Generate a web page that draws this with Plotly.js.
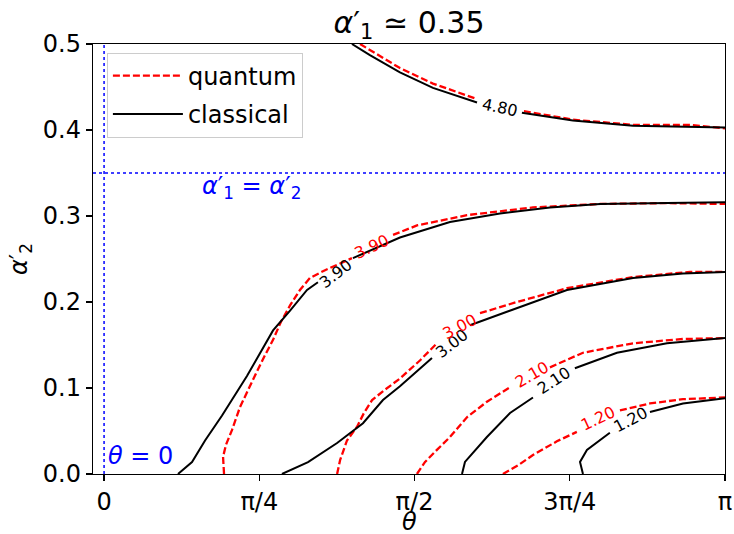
<!DOCTYPE html>
<html>
<head>
<meta charset="utf-8">
<script src="https://cdn.plot.ly/plotly-3.0.1.min.js"></script>
<style>
  html, body { margin: 0; padding: 0; background: #fff; }
  #chart { width: 734px; height: 534px; }
</style>
</head>
<body>
<div id="chart"></div>
<script>
// ---- data ----
const alpha1 = 0.35;
const levels = ["1.20", "2.10", "3.00", "3.90", "4.80"];
const xTickVals = [0, Math.PI / 4, Math.PI / 2, 3 * Math.PI / 4, Math.PI];
const xTickText = ["0", "π/4", "π/2", "3π/4", "π"];
const yTickVals = [0, 0.1, 0.2, 0.3, 0.4, 0.5];
const yTickText = ["0.0", "0.1", "0.2", "0.3", "0.4", "0.5"];

// classical contours (null = gap for inline label)
const cX120 = [2.423, 2.408, 2.443, 2.559, null, 2.762, 2.929, 3.1416];
const cY120 = [0, 0.014, 0.028, 0.048, null, 0.072, 0.082, 0.088];
const cX210 = [1.811, 1.826, 1.937, 2.054, 2.170, null, 2.382, 2.595, 2.848, 3.1416];
const cY210 = [0, 0.014, 0.043, 0.071, 0.089, null, 0.123, 0.141, 0.152, 0.158];
const cX300 = [0.900, 1.032, 1.179, 1.310, 1.411, 1.497, 1.659, null, 1.851, 2.089, 2.342, 2.676, 2.929, 3.1416];
const cY300 = [0, 0.0139, 0.036, 0.059, 0.086, 0.102, 0.135, null, 0.173, 0.193, 0.214, 0.228, 0.233, 0.235];
const cX390 = [0.374, 0.445, 0.511, 0.597, 0.723, 0.855, 0.941, 1.027, 1.082, null, 1.259, 1.497, 1.750, 2.003, 2.256, 2.509, 2.848, 3.1416];
const cY390 = [0, 0.0139, 0.039, 0.068, 0.114, 0.167, 0.190, 0.214, 0.223, null, 0.251, 0.275, 0.293, 0.303, 0.310, 0.314, 0.315, 0.316];
const cX480 = [1.254, 1.345, 1.497, 1.664, 1.887, null, 2.114, 2.372, 2.676, 3.1416];
const cY480 = [0.5, 0.487, 0.467, 0.449, 0.432, null, 0.420, 0.411, 0.405, 0.403];

// quantum contours
const qX120 = [2.018, 2.094, 2.170, 2.291, 2.392, null, 2.610, 2.762, 2.929, 3.1416];
const qY120 = [0, 0.010, 0.022, 0.038, 0.049, null, 0.074, 0.082, 0.087, 0.089];
const qX210 = [1.583, 1.624, 1.684, 1.750, 1.836, 1.937, 2.054, null, 2.256, 2.423, 2.676, 2.929, 3.1416];
const qY210 = [0, 0.014, 0.028, 0.043, 0.066, 0.084, 0.101, null, 0.124, 0.141, 0.152, 0.157, 0.158];
const qX300 = [1.179, 1.194, 1.229, 1.280, 1.315, 1.356, 1.421, 1.497, 1.598, 1.684, null, 1.902, 2.089, 2.342, 2.676, 2.964, 3.1416];
const qY300 = [0, 0.016, 0.039, 0.055, 0.071, 0.086, 0.098, 0.111, 0.132, 0.152, null, 0.187, 0.200, 0.216, 0.229, 0.235, 0.235];
const qX390 = [0.607, 0.602, 0.617, 0.647, 0.688, 0.728, 0.769, 0.814, 0.855, 0.895, 0.941, 0.991, 1.042, 1.118, 1.194, 1.254, null, 1.462, 1.583, 1.836, 2.170, 2.509, 2.848, 3.1416];
const qY390 = [0, 0.020, 0.034, 0.051, 0.078, 0.098, 0.117, 0.138, 0.156, 0.177, 0.196, 0.214, 0.228, 0.237, 0.245, 0.251, null, 0.278, 0.289, 0.301, 0.310, 0.314, 0.315, 0.314];
const qX480 = [1.295, 1.386, 1.497, 1.664, 1.887, null, 2.124, 2.372, 2.676, 2.964, 3.1416];
const qY480 = [0.5, 0.487, 0.472, 0.454, 0.436, null, 0.422, 0.412, 0.406, 0.406, 0.402];

// ---- build traces ----
const FONT = "DejaVu Sans, Liberation Sans, sans-serif";
const quantumSets = [[qX120, qY120], [qX210, qY210], [qX300, qY300], [qX390, qY390], [qX480, qY480]];
const classicalSets = [[cX120, cY120], [cX210, cY210], [cX300, cY300], [cX390, cY390], [cX480, cY480]];

const traces = [];
quantumSets.forEach((s, i) => {
  traces.push({
    x: s[0], y: s[1], type: "scatter", mode: "lines",
    name: "quantum", legendgroup: "quantum", showlegend: i === 0,
    connectgaps: false,
    line: { color: "red", width: 2.3, dash: "7px,3px" }
  });
});
classicalSets.forEach((s, i) => {
  traces.push({
    x: s[0], y: s[1], type: "scatter", mode: "lines",
    name: "classical", legendgroup: "classical", showlegend: i === 0,
    connectgaps: false,
    line: { color: "black", width: 2 }
  });
});

// inline contour labels
const labelSpecs = [
  // [text, x, y, angle, color]
  [levels[4], 2.003, 0.426, 12, "black"],
  [levels[3], 1.173, 0.233, -38, "black"],
  [levels[3], 1.356, 0.264, -25, "red"],
  [levels[2], 1.760, 0.152, -38, "black"],
  [levels[2], 1.801, 0.171, -28, "red"],
  [levels[1], 2.276, 0.109, -33, "black"],
  [levels[1], 2.165, 0.116, -30, "red"],
  [levels[0], 2.666, 0.063, -28, "black"],
  [levels[0], 2.499, 0.065, -25, "red"]
];
const annotations = labelSpecs.map(l => ({
  text: l[0], x: l[1], y: l[2], xref: "x", yref: "y",
  showarrow: false, textangle: l[3], xanchor: "center", yanchor: "middle",
  font: { family: FONT, size: 16, color: l[4] }
}));
annotations.push({
  text: "<i>θ</i> = 0", x: 0.012, y: 0.021, xref: "x", yref: "y",
  showarrow: false, xanchor: "left", yanchor: "middle",
  font: { family: FONT, size: 24, color: "blue" }
});
annotations.push({
  text: "<i>α</i>′<sub>1</sub> = <i>α</i>′<sub>2</sub>", x: 0.744, y: 0.333, xref: "x", yref: "y",
  showarrow: false, xanchor: "center", yanchor: "middle",
  font: { family: FONT, size: 24, color: "blue" }
});
// x-axis title (placed as annotation below the tick labels)
annotations.push({
  text: "<i>θ</i>", x: 0.5, y: -0.112, xref: "paper", yref: "paper",
  showarrow: false, xanchor: "center", yanchor: "middle",
  font: { family: FONT, size: 24, color: "black" }
});

const layout = {
  width: 734, height: 534,
  margin: { l: 93, r: 9, t: 43.5, b: 60 },
  paper_bgcolor: "white", plot_bgcolor: "white",
  font: { family: FONT, size: 24, color: "black" },
  title: {
    text: "<i>α</i>′<sub>1</sub> ≃ 0.35",
    x: 0.5, xref: "paper", xanchor: "center",
    y: 0.958, yref: "container", yanchor: "middle",
    font: { family: FONT, size: 30, color: "black" }
  },
  xaxis: {
    range: [-0.056, Math.PI],
    tickmode: "array", tickvals: xTickVals, ticktext: xTickText,
    ticks: "outside", ticklen: 6, tickwidth: 1.2, tickcolor: "black",
    showline: true, linecolor: "black", linewidth: 1.2, mirror: true,
    showgrid: false, zeroline: false,
    tickfont: { family: FONT, size: 24, color: "black" }
  },
  yaxis: {
    range: [0, 0.5],
    tickmode: "array", tickvals: yTickVals, ticktext: yTickText,
    ticks: "outside", ticklen: 6, tickwidth: 1.2, tickcolor: "black",
    showline: true, linecolor: "black", linewidth: 1.2, mirror: true,
    showgrid: false, zeroline: false,
    tickfont: { family: FONT, size: 24, color: "black" },
    title: { text: "<i>α</i>′<sub>2</sub>", font: { family: FONT, size: 24, color: "black" }, standoff: 8 }
  },
  shapes: [
    { type: "line", xref: "x", yref: "paper", x0: 0, x1: 0, y0: 0, y1: 1,
      line: { color: "blue", width: 1.5, dash: "dot" }, layer: "below" },
    { type: "line", xref: "paper", yref: "y", x0: 0, x1: 1, y0: alpha1, y1: alpha1,
      line: { color: "blue", width: 1.5, dash: "dot" }, layer: "below" }
  ],
  legend: {
    x: 0.022, y: 0.98, xanchor: "left", yanchor: "top",
    bgcolor: "rgba(255,255,255,0.8)", bordercolor: "#cccccc", borderwidth: 1,
    font: { family: FONT, size: 24, color: "black" },
    itemwidth: 70, tracegroupgap: 4
  },
  annotations: annotations,
  showlegend: true
};

Plotly.newPlot("chart", traces, layout, { staticPlot: true, displayModeBar: false });
</script>
</body>
</html>
